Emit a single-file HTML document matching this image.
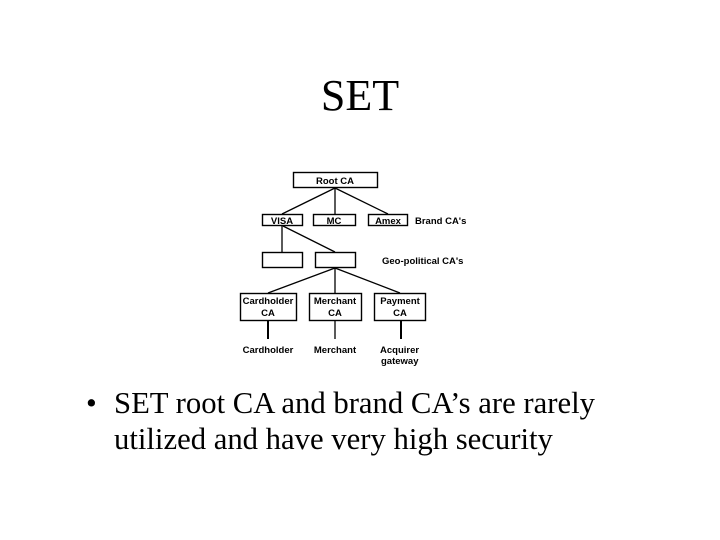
<!DOCTYPE html>
<html><head><style>
body{margin:0;width:720px;height:540px;background:#fff;overflow:hidden;position:relative;font-family:"Liberation Serif",serif;}
.t{position:absolute;white-space:nowrap;color:#000;}
</style></head><body>
<div class="t" style="left:0;width:720px;text-align:center;top:70px;font-size:44px;">SET</div>
<svg style="position:absolute;left:0;top:0" width="720" height="540">
<g fill="#fff" stroke="#000" stroke-width="1.4">
<rect x="293.5" y="172.5" width="84" height="15"/>
<rect x="262.5" y="214.5" width="40" height="11"/>
<rect x="313.5" y="214.5" width="42" height="11"/>
<rect x="368.5" y="214.5" width="39" height="11"/>
<rect x="262.5" y="252.5" width="40" height="15"/>
<rect x="315.5" y="252.5" width="40" height="15"/>
<rect x="240.5" y="293.5" width="56" height="27"/>
<rect x="309.5" y="293.5" width="52" height="27"/>
<rect x="374.5" y="293.5" width="51" height="27"/>
</g>
<g stroke="#000" stroke-width="1.3">
<line x1="335" y1="188" x2="282" y2="214"/>
<line x1="335" y1="188" x2="335" y2="214"/>
<line x1="335" y1="188" x2="388" y2="214"/>
<line x1="282" y1="226" x2="282" y2="252"/>
<line x1="283" y1="226" x2="335" y2="252"/>
<line x1="335" y1="268" x2="268" y2="293"/>
<line x1="335" y1="268" x2="335" y2="293"/>
<line x1="335" y1="268" x2="400" y2="293"/>
<line x1="268" y1="321" x2="268" y2="339" stroke-width="2"/>
<line x1="335" y1="321" x2="335" y2="339"/>
<line x1="401" y1="321" x2="401" y2="339" stroke-width="2"/>
</g>
<g font-family="Liberation Sans, sans-serif" font-size="9.5" font-weight="bold" text-anchor="middle">
<text x="335" y="184">Root CA</text>
<text x="282" y="224">VISA</text>
<text x="334" y="224">MC</text>
<text x="388" y="224">Amex</text>
<text x="268" y="304">Cardholder</text>
<text x="268" y="316">CA</text>
<text x="335" y="304">Merchant</text>
<text x="335" y="316">CA</text>
<text x="400" y="304">Payment</text>
<text x="400" y="316">CA</text>
<text x="268" y="353">Cardholder</text>
<text x="335" y="353">Merchant</text>
<text text-anchor="start" x="380" y="353">Acquirer</text>
<text text-anchor="start" x="381" y="364">gateway</text>
<text text-anchor="start" x="415" y="224">Brand CA's</text>
<text text-anchor="start" x="382" y="264">Geo-political CA's</text>
</g>
</svg>
<div class="t" style="left:86px;top:386px;font-size:30.7px;">•</div>
<div class="t" style="left:114px;top:386px;font-size:30.7px;">SET root CA and brand CA’s are rarely</div>
<div class="t" style="left:114px;top:422px;font-size:30.7px;">utilized and have very high security</div>
</body></html>
